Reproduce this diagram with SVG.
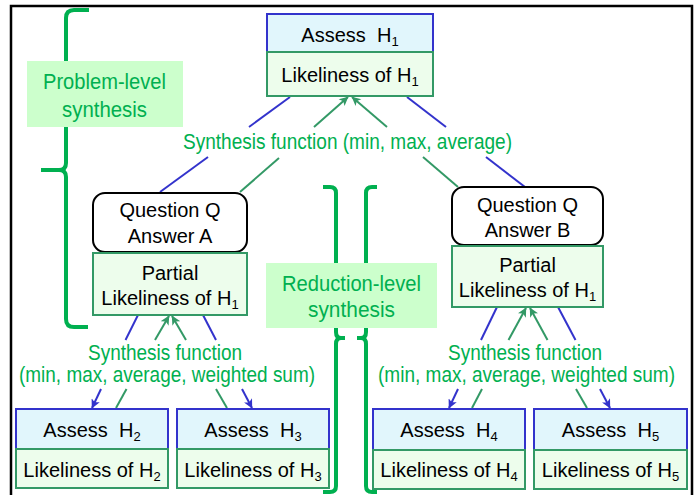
<svg xmlns="http://www.w3.org/2000/svg" width="699" height="495" viewBox="0 0 699 495">
<defs>
<style>
.frame{fill:none;stroke:#000;stroke-width:2.5}
.assess{fill:#e1f6fc;stroke:#3333cc;stroke-width:2}
.like{fill:#edfdec;stroke:#339966;stroke-width:2}
.q{fill:#fff;stroke:#000;stroke-width:2}
.t{font-family:"Liberation Sans",Arial,sans-serif;font-size:20px;fill:#000;text-anchor:middle}
.sub{font-size:13px}
.g{font-family:"Liberation Sans",Arial,sans-serif;font-size:22px;fill:#00b050}
.lbl{fill:#ccffcc}
.brace{fill:none;stroke:#00b050;stroke-width:4;stroke-linejoin:round}
.cb{stroke:#3333cc;stroke-width:2;fill:none}
.cg{stroke:#339966;stroke-width:2;fill:none}
</style>
<marker id="ag" viewBox="0 0 10 10" refX="9.5" refY="5" markerWidth="10" markerHeight="9" markerUnits="userSpaceOnUse" orient="auto"><path d="M0,0 L10,5 L0,10 L2.5,5 z" fill="#339966"/></marker>
<marker id="ab" viewBox="0 0 10 10" refX="9.5" refY="5" markerWidth="10" markerHeight="9" markerUnits="userSpaceOnUse" orient="auto"><path d="M0,0 L10,5 L0,10 L2.5,5 z" fill="#3333cc"/></marker>
</defs>

<rect class="frame" x="11" y="6" width="681" height="500"/>

<g id="braces">
<path class="brace" d="M89,10 H74 Q66,10 66,18 V163 Q66,170 59,170 H41 M59,170 Q66,170 66,177 V319 Q66,327 74,327 H88"/>
<path class="brace" d="M323,187 H330 Q336,187 336,193 V332 Q336,338 341,338 H345 M341,338 Q336,338 336,344 V486 Q336,492 330,492 H323"/>
<path class="brace" d="M377,187 H372 Q366,187 366,193 V332 Q366,338 361,338 H357 M361,338 Q366,338 366,344 V486 Q366,492 372,492 H377"/>
</g>

<g id="label-problem-level">
<rect class="lbl" x="27" y="61" width="156" height="66"/>
<text class="g" x="43" y="89" textLength="123" lengthAdjust="spacingAndGlyphs">Problem-level</text>
<text class="g" x="62" y="117" textLength="85" lengthAdjust="spacingAndGlyphs">synthesis</text>
</g>

<g id="label-reduction-level">
<rect class="lbl" x="266" y="263" width="171" height="65"/>
<text class="g" x="282" y="291" textLength="139" lengthAdjust="spacingAndGlyphs">Reduction-level</text>
<text class="g" x="308" y="317" textLength="87" lengthAdjust="spacingAndGlyphs">synthesis</text>
</g>

<g id="connectors">
<!-- top level -->
<line class="cb" x1="290" y1="97" x2="249" y2="127"/>
<line class="cb" x1="208" y1="157" x2="160" y2="192"/>
<line class="cb" x1="407" y1="97" x2="446" y2="127"/>
<line class="cb" x1="486" y1="157" x2="525" y2="187"/>
<line class="cg" x1="314" y1="127" x2="348" y2="97" marker-end="url(#ag)"/>
<line class="cg" x1="240" y1="192" x2="279" y2="158"/>
<line class="cg" x1="387" y1="127" x2="352" y2="97" marker-end="url(#ag)"/>
<line class="cg" x1="423" y1="157" x2="458" y2="187"/>
<!-- lower left -->
<line class="cb" x1="138" y1="315" x2="125.5" y2="340"/>
<line class="cb" x1="101" y1="389" x2="92" y2="408" marker-end="url(#ab)"/>
<line class="cb" x1="203" y1="315" x2="216" y2="340"/>
<line class="cb" x1="242" y1="389" x2="252" y2="408" marker-end="url(#ab)"/>
<line class="cg" x1="155" y1="340" x2="169" y2="316" marker-end="url(#ag)"/>
<line class="cg" x1="126.5" y1="389" x2="116" y2="408"/>
<line class="cg" x1="186" y1="340" x2="172" y2="316" marker-end="url(#ag)"/>
<line class="cg" x1="216" y1="389" x2="227" y2="408"/>
<!-- lower right -->
<line class="cb" x1="497" y1="307" x2="481" y2="340"/>
<line class="cb" x1="458" y1="389" x2="449" y2="408" marker-end="url(#ab)"/>
<line class="cb" x1="558" y1="307" x2="575.5" y2="340"/>
<line class="cb" x1="600" y1="389" x2="610" y2="408" marker-end="url(#ab)"/>
<line class="cg" x1="508.5" y1="340" x2="526" y2="308" marker-end="url(#ag)"/>
<line class="cg" x1="482" y1="389" x2="472" y2="408"/>
<line class="cg" x1="547.5" y1="340" x2="530" y2="308" marker-end="url(#ag)"/>
<line class="cg" x1="576" y1="389" x2="587" y2="408"/>
</g>

<g id="connector-labels">
<text class="g" x="183" y="149" textLength="329" lengthAdjust="spacingAndGlyphs">Synthesis function (min, max, average)</text>
<text class="g" x="88" y="360" textLength="154" lengthAdjust="spacingAndGlyphs">Synthesis function</text>
<text class="g" x="19" y="382" textLength="296" lengthAdjust="spacingAndGlyphs">(min, max, average, weighted sum)</text>
<text class="g" x="448" y="360" textLength="154" lengthAdjust="spacingAndGlyphs">Synthesis function</text>
<text class="g" x="378" y="382" textLength="297" lengthAdjust="spacingAndGlyphs">(min, max, average, weighted sum)</text>
</g>

<g id="node-h1">
<rect class="assess" x="267" y="14" width="166" height="38"/>
<rect class="like" x="267" y="52" width="166" height="44"/>
<text class="t" x="350" y="42">Assess&#160; H<tspan class="sub" dy="4">1</tspan></text>
<text class="t" x="350" y="82">Likeliness of H<tspan class="sub" dy="4">1</tspan></text>
</g>

<g id="node-qa">
<rect class="q" x="93" y="193" width="154" height="59" rx="12"/>
<text class="t" x="170" y="217">Question Q</text>
<text class="t" x="170" y="243">Answer A</text>
</g>
<g id="node-partial-a">
<rect class="like" x="93" y="253" width="154" height="62"/>
<text class="t" x="170" y="280">Partial</text>
<text class="t" x="170" y="305">Likeliness of H<tspan class="sub" dy="4">1</tspan></text>
</g>

<g id="node-qb">
<rect class="q" x="452" y="187" width="151" height="58" rx="12"/>
<text class="t" x="527.5" y="212">Question Q</text>
<text class="t" x="527.5" y="237">Answer B</text>
</g>
<g id="node-partial-b">
<rect class="like" x="452" y="246" width="151" height="61"/>
<text class="t" x="527.5" y="272">Partial</text>
<text class="t" x="527.5" y="297">Likeliness of H<tspan class="sub" dy="4">1</tspan></text>
</g>

<g id="node-h2">
<rect class="assess" x="16" y="409" width="152" height="40"/>
<rect class="like" x="16" y="449" width="152" height="39"/>
<text class="t" x="92" y="437">Assess&#160; H<tspan class="sub" dy="4">2</tspan></text>
<text class="t" x="92" y="477">Likeliness of H<tspan class="sub" dy="4">2</tspan></text>
</g>
<g id="node-h3">
<rect class="assess" x="177" y="409" width="152" height="40"/>
<rect class="like" x="177" y="449" width="152" height="39"/>
<text class="t" x="253" y="437">Assess&#160; H<tspan class="sub" dy="4">3</tspan></text>
<text class="t" x="253" y="477">Likeliness of H<tspan class="sub" dy="4">3</tspan></text>
</g>
<g id="node-h4">
<rect class="assess" x="373" y="409" width="152" height="41"/>
<rect class="like" x="373" y="450" width="152" height="39"/>
<text class="t" x="449" y="437">Assess&#160; H<tspan class="sub" dy="4">4</tspan></text>
<text class="t" x="449" y="477">Likeliness of H<tspan class="sub" dy="4">4</tspan></text>
</g>
<g id="node-h5">
<rect class="assess" x="534" y="409" width="153" height="41"/>
<rect class="like" x="534" y="450" width="153" height="39"/>
<text class="t" x="610.5" y="437">Assess&#160; H<tspan class="sub" dy="4">5</tspan></text>
<text class="t" x="610.5" y="477">Likeliness of H<tspan class="sub" dy="4">5</tspan></text>
</g>
</svg>
